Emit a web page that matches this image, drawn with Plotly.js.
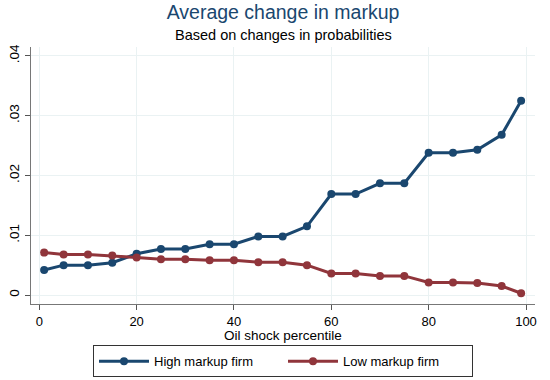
<!DOCTYPE html>
<html>
<head>
<meta charset="utf-8">
<script src="https://cdn.plot.ly/plotly-3.0.1.min.js"></script>
<style>html,body{margin:0;padding:0;background:#fff;}#chart{width:550px;height:380px;}</style>
</head>
<body>
<div id="chart"></div>
<script>
var percentiles = [1, 5, 10, 15, 20, 25, 30, 35, 40, 45, 50, 55, 60, 65, 70, 75, 80, 85, 90, 95, 99];
var highMarkup = [0.0042, 0.0050, 0.0050, 0.0054, 0.0069, 0.0077, 0.0077, 0.0085, 0.0085, 0.0098, 0.0098, 0.0115, 0.0169, 0.0169, 0.0187, 0.0187, 0.0238, 0.0238, 0.0243, 0.0268, 0.0325];
var lowMarkup = [0.0071, 0.0068, 0.0068, 0.0066, 0.0063, 0.0060, 0.0060, 0.0058, 0.0058, 0.0055, 0.0055, 0.0050, 0.0036, 0.0036, 0.0032, 0.0032, 0.0021, 0.0021, 0.0020, 0.0015, 0.0003];
var seriesNames = ["High markup firm", "Low markup firm"];
var xTickVals = [0, 20, 40, 60, 80, 100];
var yTickVals = [0, 0.01, 0.02, 0.03, 0.04];
var yTickText = ["0", ".01", ".02", ".03", ".04"];
var titleText = "Average change in markup";
var subtitleText = "Based on changes in probabilities";
var xTitle = "Oil shock percentile";

var font = "Liberation Sans, Arial, Helvetica, sans-serif";
var traces = [
  {x: percentiles, y: highMarkup, name: seriesNames[0], type: "scatter", mode: "lines+markers",
   line: {color: "#1a476f", width: 3}, marker: {color: "#1a476f", size: 8}},
  {x: percentiles, y: lowMarkup, name: seriesNames[1], type: "scatter", mode: "lines+markers",
   line: {color: "#90353b", width: 3}, marker: {color: "#90353b", size: 8}}
];
var layout = {
  width: 550, height: 380,
  paper_bgcolor: "#ffffff", plot_bgcolor: "#ffffff",
  margin: {l: 31, r: 15, t: 47, b: 76, autoexpand: false},
  font: {family: font, color: "#000000"},
  title: {text: titleText, font: {family: font, size: 19.5, color: "#1a476f"}, x: 0.5, xref: "paper", xanchor: "center", y: 0.968, yref: "container", yanchor: "middle"},
  annotations: [
    {text: subtitleText, xref: "paper", yref: "paper", x: 0.5, y: 1, yshift: 12, showarrow: false, xanchor: "center", yanchor: "middle", font: {family: font, size: 14.5, color: "#000000"}},
    {text: xTitle, xref: "paper", yref: "paper", x: 0.5, y: -0.121, showarrow: false, xanchor: "center", yanchor: "middle", font: {family: font, size: 13.5, color: "#000000"}}
  ],
  xaxis: {
    range: [-1.7, 101.85], tickvals: xTickVals, ticks: "outside", ticklen: 5, tickcolor: "#555",
    showline: true, linecolor: "#777", linewidth: 1.2, showgrid: true, gridcolor: "#eaf2f3", gridwidth: 1,
    zeroline: false, tickfont: {family: font, size: 13, color: "#000"}
  },
  yaxis: {
    range: [-0.0015, 0.0415], tickvals: yTickVals, ticktext: yTickText, tickangle: -90,
    ticks: "outside", ticklen: 5, tickcolor: "#555",
    showline: true, linecolor: "#777", linewidth: 1.2, showgrid: true, gridcolor: "#eaf2f3", gridwidth: 1,
    zeroline: false, tickfont: {family: font, size: 13.5, color: "#000"}
  },
  showlegend: true,
  legend: {orientation: "h", x: 0.5, xanchor: "center", y: -0.161, yanchor: "top", xref: "paper", yref: "paper",
    bordercolor: "#333", borderwidth: 1, bgcolor: "#fff", font: {family: font, size: 13, color: "#000"},
    entrywidth: 124, entrywidthmode: "pixels", itemwidth: 50}
};
Plotly.newPlot("chart", traces, layout, {displayModeBar: false, staticPlot: true});
</script>
</body>
</html>
